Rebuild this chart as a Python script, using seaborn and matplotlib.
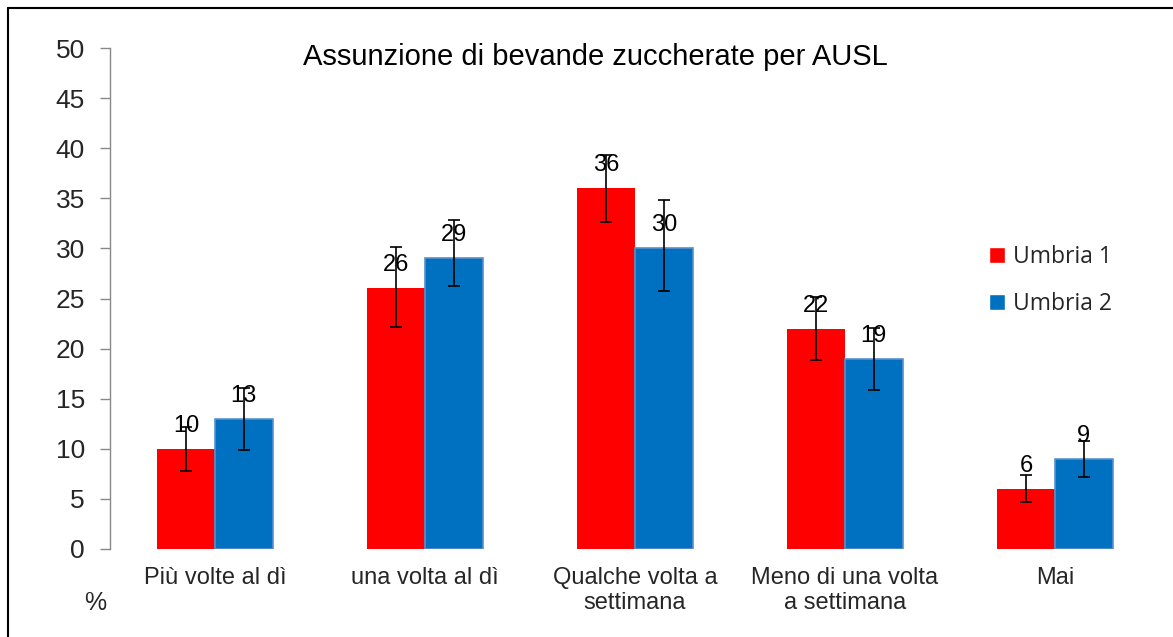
import numpy as np
import pandas as pd
import matplotlib
matplotlib.use("Agg")
import matplotlib.pyplot as plt
import seaborn as sns
from matplotlib.lines import Line2D

categories = ["Più volte al dì", "una volta al dì", "Qualche volta a\nsettimana",
              "Meno di una volta\na settimana", "Mai"]
series = ["Umbria 1", "Umbria 2"]
umbria1 = [10, 26, 36, 22, 6]
umbria2 = [13, 29, 30, 19, 9]
umbria1_low = [7.8, 22.2, 32.6, 18.9, 4.7]
umbria1_high = [12.2, 30.1, 39.3, 25.1, 7.4]
umbria2_low = [9.9, 26.2, 25.7, 15.9, 7.2]
umbria2_high = [16.1, 32.8, 34.8, 22.1, 10.8]
yticks = list(range(0, 51, 5))

colors = {"Umbria 1": "#FF0000", "Umbria 2": "#0070C0"}

df = pd.DataFrame({
    "cat": categories * 2,
    "serie": [series[0]] * 5 + [series[1]] * 5,
    "val": umbria1 + umbria2,
})

sns.set_style("white")
plt.rcParams["font.family"] = ["Liberation Sans", "DejaVu Sans"]

fig = plt.figure(figsize=(11.73, 6.37), dpi=100)
ax = fig.add_axes([110 / 1173, 1 - 549 / 637, 1050 / 1173, 501 / 637])

sns.barplot(data=df, x="cat", y="val", hue="serie", order=categories,
            hue_order=series, palette=colors, width=0.55, errorbar=None,
            saturation=1, ax=ax, legend=True)

# edges, error bars and value labels
lows = {"Umbria 1": umbria1_low, "Umbria 2": umbria2_low}
highs = {"Umbria 1": umbria1_high, "Umbria 2": umbria2_high}
vals = {"Umbria 1": umbria1, "Umbria 2": umbria2}
for cont, s in zip(ax.containers, series):
    for i, p in enumerate(cont.patches):
        if s == "Umbria 2":
            p.set_edgecolor("#5B8FCC")
            p.set_linewidth(1.2)
        else:
            p.set_edgecolor("none")
        x = p.get_x() + p.get_width() / 2
        v = vals[s][i]
        ax.errorbar(x, v, yerr=[[v - lows[s][i]], [highs[s][i] - v]],
                    fmt="none", ecolor="black", elinewidth=1.2, capsize=4.5,
                    capthick=1.2, zorder=4)
        ax.text(x, v + 1.2, str(v), ha="center", va="bottom",
                fontsize=17, color="black", zorder=5)

ax.set_xlim(-0.5, 4.5)
ax.set_ylim(0, 50)
ax.set_yticks(yticks)
ax.tick_params(axis="y", labelsize=19, length=7, width=1, color="#888888",
               direction="out", left=True, pad=11)
ax.tick_params(axis="x", labelsize=17, length=0, pad=13)
ax.set_xlabel("")
ax.set_ylabel("")
for side in ["top", "right", "bottom"]:
    ax.spines[side].set_visible(False)
ax.spines["left"].set_color("#888888")
ax.spines["left"].set_linewidth(1)

ax.set_title("Assunzione di bevande zuccherate per AUSL", fontsize=21,
             pad=0, x=0.462, y=0.966, color="black")

leg = ax.legend(loc="upper left", bbox_to_anchor=(0.8175, 0.647), frameon=False,
                fontsize=16.5, handlelength=0.7, handleheight=0.7,
                handletextpad=0.35, labelspacing=1.0)
for t in leg.get_texts():
    t.set_fontfamily(["Open Sans", "DejaVu Sans"])

fig.text(95 / 1173, 1 - 603 / 637, "%", fontsize=18, ha="center", va="center")

# outer frame (left and top visible)
fig.add_artist(Line2D([8 / 1173, 8 / 1173], [0, 1 - 8 / 637], color="black", lw=1.5))
fig.add_artist(Line2D([8 / 1173, 1], [1 - 8 / 637, 1 - 8 / 637], color="black", lw=1.5))

fig.savefig("out.png", dpi=100)
